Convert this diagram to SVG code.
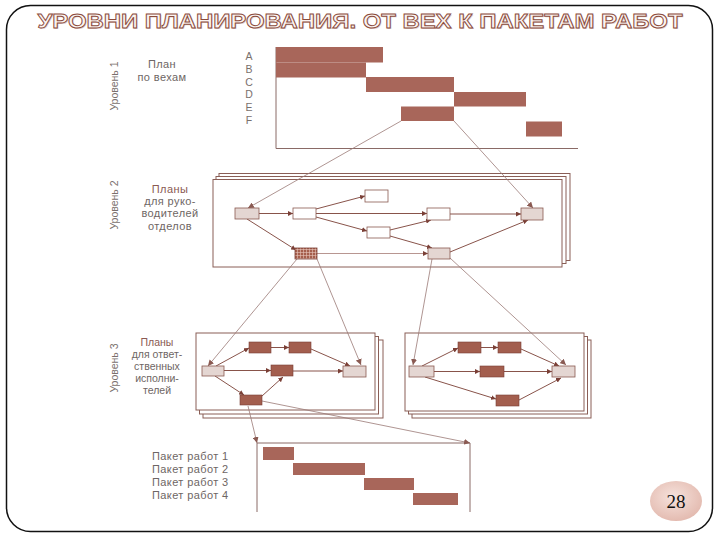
<svg xmlns="http://www.w3.org/2000/svg" width="720" height="540" viewBox="0 0 720 540">
<defs>
<marker id="ah" viewBox="0 0 6 6" refX="6" refY="3" markerWidth="5" markerHeight="5" markerUnits="userSpaceOnUse" orient="auto"><path d="M0,0 L6,3 L0,6 z" fill="#7a3f36"/></marker>
<marker id="ahc" viewBox="0 0 6 6" refX="6" refY="3" markerWidth="6" markerHeight="6" markerUnits="userSpaceOnUse" orient="auto"><path d="M0,0 L6,3 L0,6 z" fill="#8a5a52"/></marker>
<pattern id="grid" width="3" height="3" patternUnits="userSpaceOnUse"><rect width="3" height="3" fill="#a55e4c"/><path d="M0,0.5H3M0.5,0V3" stroke="#e6c4ba" stroke-width="0.6"/></pattern>
<radialGradient id="pg" cx="0.45" cy="0.4" r="0.65"><stop offset="0" stop-color="#f6e2dc"/><stop offset="1" stop-color="#e2b8ad"/></radialGradient>
<style>
.frame{fill:#fff;stroke:#8a5e56;stroke-width:1}
.bar{fill:#a8665a}
.nw{fill:#fff;stroke:#8a5a50;stroke-width:0.8}
.ns{fill:#e4d6d2;stroke:#8a5a50;stroke-width:0.8}
.nb{fill:#a35e4e;stroke:#7a3f36;stroke-width:0.6}
.e{stroke:#7a3f36;stroke-width:0.9;fill:none;marker-end:url(#ah)}
.c{stroke:#9a7a76;stroke-width:0.8;fill:none;marker-end:url(#ahc)}
.ax{stroke:#8a6a66;stroke-width:1;fill:none}
.lbl{font-family:"Liberation Sans",Arial,sans-serif;fill:#6e6664;font-size:11px;letter-spacing:0.4px}
.sm{font-size:10.5px;letter-spacing:0}
.vl{font-family:"Liberation Sans",Arial,sans-serif;fill:#7a706c;font-size:10.5px}
.ltr{font-family:"Liberation Sans",Arial,sans-serif;fill:#7a706c;font-size:10.5px}
</style>
</defs>
<rect width="720" height="540" fill="#fff"/>
<rect x="6.5" y="5.5" width="706" height="526" rx="24" fill="none" stroke="#111" stroke-width="1.5"/>
<g id="title">
<text x="361" y="29" font-family="Liberation Sans, Arial, sans-serif" font-weight="bold" font-size="21" textLength="645" lengthAdjust="spacingAndGlyphs" text-anchor="middle" fill="#c9a79c" opacity="0.5">УРОВНИ ПЛАНИРОВАНИЯ. ОТ ВЕХ К ПАКЕТАМ РАБОТ</text>
<text x="360" y="28" font-family="Liberation Sans, Arial, sans-serif" font-weight="bold" font-size="21" textLength="645" lengthAdjust="spacingAndGlyphs" text-anchor="middle" fill="#fbf4f1" stroke="#8a4b3c" stroke-width="0.9">УРОВНИ ПЛАНИРОВАНИЯ. ОТ ВЕХ К ПАКЕТАМ РАБОТ</text>
</g>

<g id="level1">
<text class="vl" transform="translate(118,86) rotate(-90)" text-anchor="middle">Уровень 1</text>
<text class="lbl" x="162" y="68" text-anchor="middle">План</text>
<text class="lbl" x="162" y="81" text-anchor="middle">по вехам</text>
<g text-anchor="middle">
<text class="ltr" x="249" y="60">A</text>
<text class="ltr" x="249" y="72.8">B</text>
<text class="ltr" x="249" y="85.6">C</text>
<text class="ltr" x="249" y="98.4">D</text>
<text class="ltr" x="249" y="111.2">E</text>
<text class="ltr" x="249" y="124">F</text>
</g>
<path class="ax" d="M276,47 V148.5 H578"/>
<rect id="barA" class="bar" x="276" y="47" width="107" height="15.5"/>
<rect id="barB" class="bar" x="276" y="62.5" width="90" height="15"/>
<rect id="barC" class="bar" x="366" y="77" width="88" height="15"/>
<rect id="barD" class="bar" x="454" y="92" width="72" height="14.5"/>
<rect id="barE" class="bar" x="401" y="106.5" width="53" height="14.5"/>
<rect id="barF" class="bar" x="526" y="121.5" width="36" height="15"/>
</g>

<g id="level2">
<text class="vl" transform="translate(118,205) rotate(-90)" text-anchor="middle">Уровень 2</text>
<text class="lbl" x="170" y="193" text-anchor="middle" style="fill:#8a5a52">Планы</text>
<text class="lbl" x="170" y="205" text-anchor="middle">для руко-</text>
<text class="lbl" x="170" y="217" text-anchor="middle">водителей</text>
<text class="lbl" x="170" y="230" text-anchor="middle">отделов</text>
<rect class="frame" x="219" y="173.5" width="351" height="87"/>
<rect class="frame" x="216" y="176.5" width="350" height="87"/>
<rect class="frame" x="213" y="179.5" width="349" height="87.5"/>
</g>

<g id="level3">
<text class="vl" transform="translate(118,368) rotate(-90)" text-anchor="middle">Уровень 3</text>
<text class="lbl sm" x="157" y="346" text-anchor="middle" style="fill:#8a5a52">Планы</text>
<text class="lbl sm" x="157" y="358" text-anchor="middle">для ответ-</text>
<text class="lbl sm" x="157" y="370" text-anchor="middle">ственных</text>
<text class="lbl sm" x="157" y="382" text-anchor="middle">исполни-</text>
<text class="lbl sm" x="157" y="394" text-anchor="middle">телей</text>
<rect class="frame" x="203" y="340" width="180" height="78"/>
<rect class="frame" x="199.5" y="336.5" width="179" height="77.5"/>
<rect class="frame" x="196" y="333" width="179" height="77"/>
<rect class="frame" x="412" y="340" width="179" height="78"/>
<rect class="frame" x="408.5" y="336.5" width="179" height="77.5"/>
<rect class="frame" x="405" y="333" width="179" height="78"/>
</g>

<g id="level4">
<text class="lbl" x="152" y="460">Пакет работ 1</text>
<text class="lbl" x="152" y="473">Пакет работ 2</text>
<text class="lbl" x="152" y="486">Пакет работ 3</text>
<text class="lbl" x="152" y="499">Пакет работ 4</text>
<path class="ax" d="M257,512 V443 H470 V512"/>
<rect id="wp1" class="bar" x="263" y="447" width="31" height="13"/>
<rect id="wp2" class="bar" x="293" y="463" width="72" height="12"/>
<rect id="wp3" class="bar" x="364" y="478" width="50" height="12"/>
<rect id="wp4" class="bar" x="413" y="493" width="45" height="12"/>
</g>

<g id="connectors">
<path class="c" d="M401,121 L248,208"/>
<path class="c" d="M454,121 L533,208"/>
<path class="e" d="M259,213.5 H293"/>
<path class="e" d="M316,209 L365,196"/>
<path class="e" d="M316,213.5 H427"/>
<path class="e" d="M316,217 L367,231"/>
<path class="e" d="M390,230 L431,220"/>
<path class="e" d="M390,236 L432,248"/>
<path class="e" d="M450,214 H521"/>
<path class="e" d="M450,252 L528,220"/>
<path class="e" d="M247,219 L296,250"/>
<path class="e" d="M317,253.5 H428" style="stroke:#b08a84"/>
<path class="c" d="M297,259 L208,366"/>
<path class="c" d="M317,259 L361,365"/>
<path class="c" d="M432,259 L413,365"/>
<path class="c" d="M450,258 L566,365"/>
<path class="e" d="M216,366 L249,348"/>
<path class="e" d="M271,347.5 H289"/>
<path class="e" d="M311,349 L350,366"/>
<path class="e" d="M224,370.5 H271"/>
<path class="e" d="M293,371 H343"/>
<path class="e" d="M215,376 L244,395"/>
<path class="e" d="M262,396 L283,377"/>
<path class="e" d="M422,366 L458,348"/>
<path class="e" d="M481,347.5 H498"/>
<path class="e" d="M521,349 L559,366"/>
<path class="e" d="M434,371.5 H480"/>
<path class="e" d="M504,371.5 H552"/>
<path class="e" d="M425,377 L496,399"/>
<path class="e" d="M519,400 L561,378"/>
<path class="c" d="M248,406 L257,443"/>
<path class="c" d="M262,401 L470,443"/>
</g>

<g id="l2nodes">
<rect id="n1" class="ns" x="235" y="208" width="24" height="11"/>
<rect id="n2" class="nw" x="293" y="208" width="23" height="11"/>
<rect id="n3" class="nw" x="365" y="190" width="23" height="12"/>
<rect id="n4" class="nw" x="427" y="208" width="23" height="12"/>
<rect id="n5" class="ns" x="521" y="208" width="22" height="12"/>
<rect id="n6" class="nw" x="367" y="227" width="23" height="11"/>
<rect id="n7" x="295" y="248" width="22" height="11" fill="url(#grid)" stroke="#7a3f36" stroke-width="0.8"/>
<rect id="n8" class="ns" x="428" y="248" width="22" height="11"/>
</g>
<g id="l3leftnodes">
<rect id="l1" class="ns" x="202" y="366" width="22" height="10"/>
<rect id="l2" class="nb" x="249" y="342" width="22" height="11"/>
<rect id="l3" class="nb" x="289" y="342" width="22" height="11"/>
<rect id="l4" class="nb" x="271" y="365" width="22" height="11"/>
<rect id="l5" class="nb" x="240" y="395" width="22" height="10"/>
<rect id="l6" class="ns" x="343" y="366" width="23" height="11"/>
</g>
<g id="l3rightnodes">
<rect id="r1" class="ns" x="409" y="366" width="25" height="11"/>
<rect id="r2" class="nb" x="458" y="342" width="23" height="11"/>
<rect id="r3" class="nb" x="498" y="342" width="23" height="11"/>
<rect id="r4" class="nb" x="480" y="366" width="24" height="11"/>
<rect id="r5" class="nb" x="496" y="395" width="23" height="11"/>
<rect id="r6" class="ns" x="552" y="366" width="23" height="11"/>
</g>

<g id="pagenum">
<ellipse cx="676" cy="501" rx="26" ry="20" fill="url(#pg)"/>
<text x="676" y="508" text-anchor="middle" font-family="Liberation Serif, Times New Roman, serif" font-size="19" fill="#111">28</text>
</g>
</svg>
